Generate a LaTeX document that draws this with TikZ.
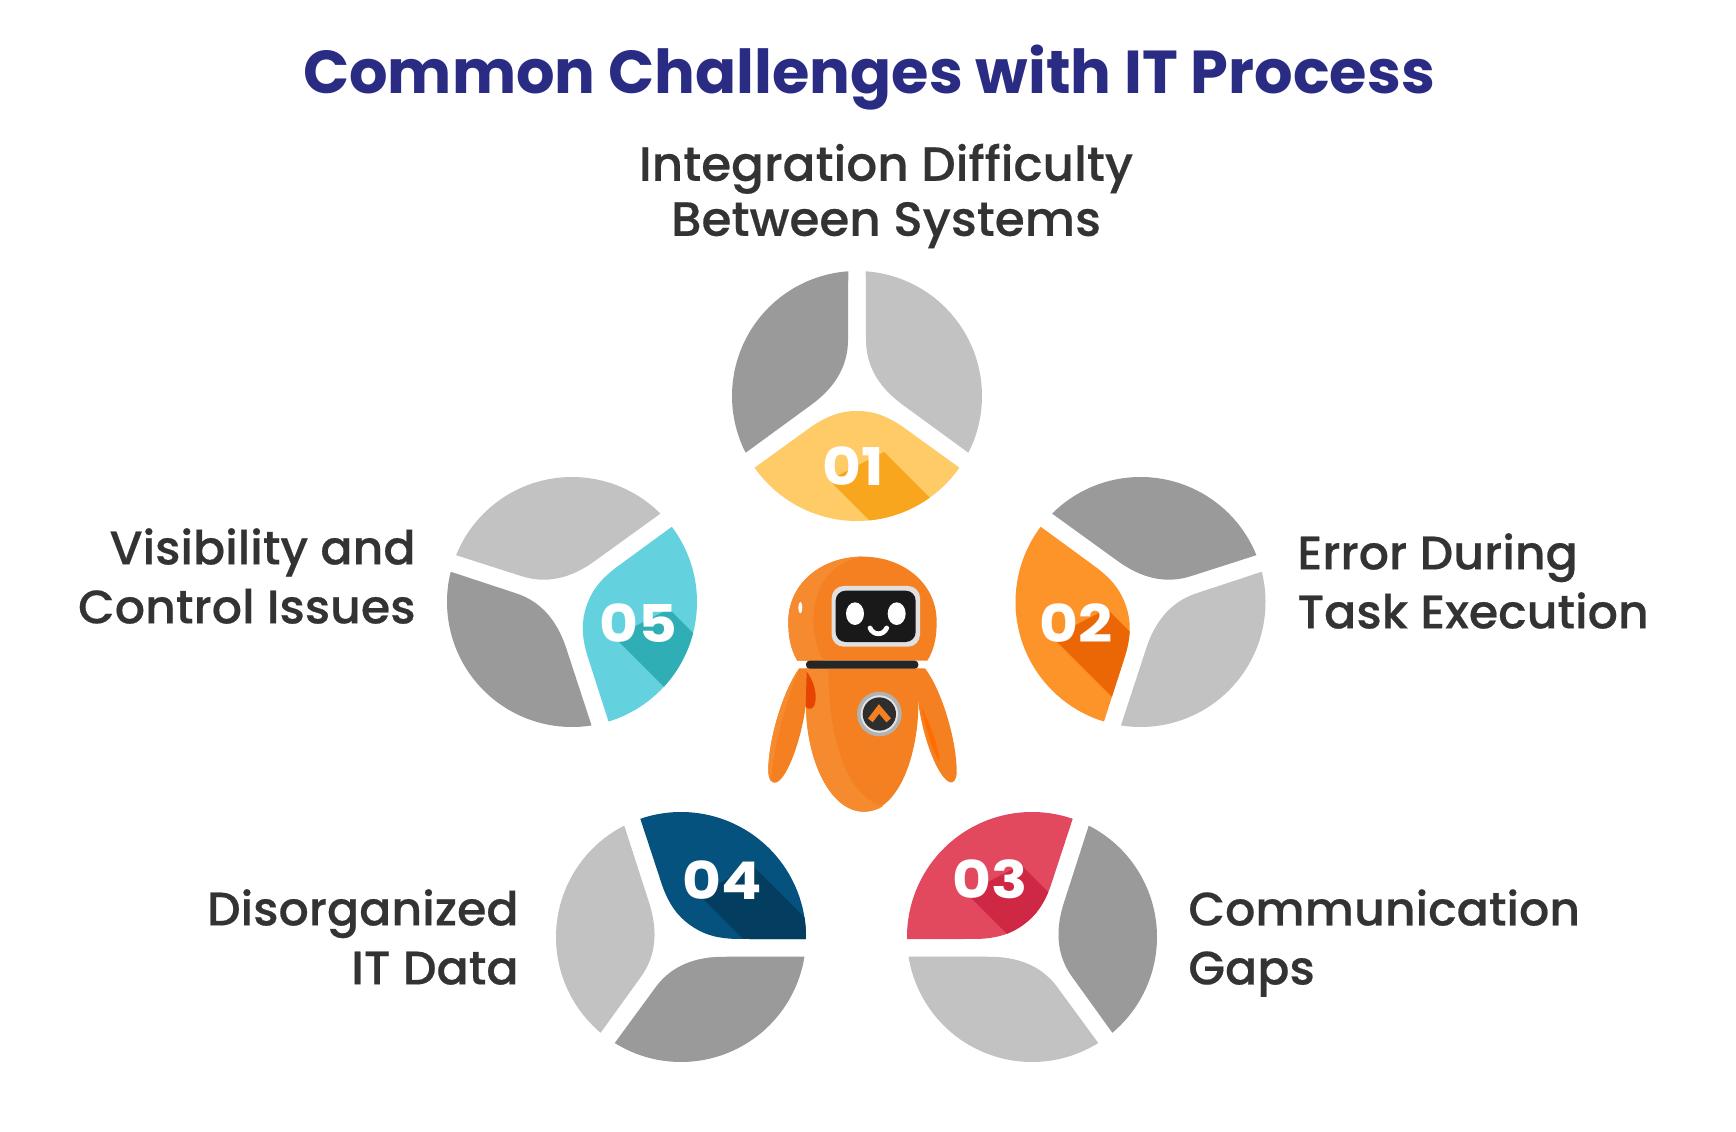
\documentclass[tikz,border=0pt]{standalone}
\usepackage{fontspec}
\setmainfont{Poppins}[BoldFont=Poppins Bold]
\newfontfamily\labelfont{Poppins Medium}[FakeStretch=1.01,FakeBold=0.4]
\newfontfamily\numfont{Poppins Bold}[FakeStretch=1.15]
\definecolor{titleblue}{HTML}{2A2C84}
\definecolor{labelgray}{HTML}{333333}
\definecolor{bladedark}{HTML}{9A9A9A}
\definecolor{bladelight}{HTML}{C2C2C2}
\definecolor{softA}{HTML}{FECB66}
\definecolor{deepA}{HTML}{F9A61F}
\definecolor{softB}{HTML}{FD942A}
\definecolor{deepB}{HTML}{EB6604}
\definecolor{softC}{HTML}{E2485E}
\definecolor{deepC}{HTML}{CE2845}
\definecolor{softD}{HTML}{05527F}
\definecolor{deepD}{HTML}{033E60}
\definecolor{softE}{HTML}{64D2DE}
\definecolor{deepE}{HTML}{2FAEB6}
\definecolor{botbody}{HTML}{F48021}
\definecolor{botlight}{HTML}{F68A2E}
\newcommand{\darkblade}{(94:125) -- (-9,56) .. controls (-9,28) and (-24,7) .. (-46,-9) -- (207:125) arc[start angle=207,end angle=94,radius=125] -- cycle}
\newcommand{\lightblade}{(86:125) -- (9,56) .. controls (9,28) and (24,7) .. (46,-9) -- (-27:125) arc[start angle=-27,end angle=86,radius=125] -- cycle}
\newcommand{\colorblade}{(215:125) -- (-46,-31) .. controls (-28,-18.5) and (-14,-15) .. (0,-15) .. controls (14,-15) and (28,-18.5) .. (46,-31) -- (325:125) arc[start angle=325,end angle=215,radius=125] -- cycle}
\begin{document}
\begin{tikzpicture}[
		x=.5pt, y=.5pt,
		heading/.style={font=\bfseries\fontsize{30.3}{36}\selectfont, text=titleblue, inner sep=0pt},
		challenge/.style={font=\labelfont\fontsize{23.5}{29.5}\selectfont, text=labelgray, inner sep=0pt},
		number/.style={font=\numfont\fontsize{26}{30}\selectfont, text=white, inner sep=0pt}
	]
	\useasboundingbox (0,0) rectangle (1736,1131);
	\fill[white] (0,0) rectangle (1736,1131);

	\node[heading] (title) at (869,1053) {Common Challenges with IT Process};
	\node[challenge, align=center, font=\labelfont\fontsize{24}{27.5}\selectfont] (lblA) at (886,935) {Integration Difficulty\\Between Systems};
	\node[challenge, align=left, anchor=west] (lblB) at (1297,550) {Error During\\Task Execution};
	\node[challenge, align=left, anchor=west] (lblC) at (1188,188) {Communication\\Gaps};
	\node[challenge, align=right, anchor=east] (lblD) at (519,194) {Disorganized\\IT Data};
	\node[challenge, align=right, anchor=east] (lblE) at (416,555) {Visibility and\\Control Issues};

	% five wheels, one blade coloured in each
	\foreach \n/\cx/\cy/\rot/\nx/\ny/\soft/\deep in {
			01/857/735/0/853/665/softA/deepA,
			02/1140.5/529/-72/1076/508/softB/deepB,
			03/1032/194/-144/990/252/softC/deepC,
			04/681/194/144/722/251/softD/deepD,
			05/572/529/72/638/508/softE/deepE}{
		\fill[bladedark, shift={(\cx,\cy)}, rotate=\rot] \darkblade;
		\fill[bladelight, shift={(\cx,\cy)}, rotate=\rot] \lightblade;
		\fill[\soft, shift={(\cx,\cy)}, rotate=\rot] \colorblade;
		\begin{scope}
			\clip[shift={(\cx,\cy)}, rotate=\rot] \colorblade;
			\fill[\deep, shift={(\nx,\ny)}] (-24,-14) -- (126,-164) -- (181,-136) -- (31,14) -- cycle;
		\end{scope}
		\node[number] (num\n) at (\nx,\ny) {\n};
	}

	% robot, in pixels of its own crop
	\begin{scope}[shift={(740,591)}, x=.16667pt, y=-.16667pt]
		% arms
		\fill[botbody] (178,385) .. controls (130,450) and (85,600) .. (85,690) .. controls (85,720) and (95,730) .. (107,728) .. controls (140,720) and (185,600) .. (198,490) -- (200,385) -- cycle;
		\fill[botbody] (555,385) .. controls (605,450) and (650,600) .. (650,695) .. controls (650,720) and (640,730) .. (630,727) .. controls (595,715) and (550,600) .. (535,490) -- (530,385) -- cycle;
		\fill[botlight] (178,385) .. controls (130,450) and (85,600) .. (85,690) .. controls (85,705) and (88,715) .. (92,722) .. controls (100,640) and (130,500) .. (178,385) -- cycle;
		\fill[orange!85!red] (543,500) .. controls (560,570) and (575,630) .. (600,665) .. controls (590,600) and (565,540) .. (543,500) -- cycle;
		% body
		\fill[botbody] (198,385) -- (198,500) .. controls (200,660) and (270,815) .. (372,815) .. controls (470,815) and (532,660) .. (535,500) -- (535,385) -- cycle;
		\fill[botlight] (198,385) -- (198,500) .. controls (200,660) and (270,815) .. (372,815) .. controls (395,815) and (415,808) .. (430,798) .. controls (340,780) and (265,640) .. (265,385) -- cycle;
		\fill[orange!60!red!90!black] (200,395) .. controls (220,420) and (232,460) .. (225,490) .. controls (220,510) and (205,510) .. (197,500) -- cycle;
		% head
		\fill[botbody] (172,362) .. controls (150,325) and (145,285) .. (145,245) .. controls (145,130) and (245,50) .. (368,50) .. controls (490,50) and (590,130) .. (590,245) .. controls (590,285) and (585,325) .. (562,362) -- cycle;
		\fill[botlight] (172,362) .. controls (150,325) and (145,285) .. (145,245) .. controls (145,130) and (245,50) .. (368,50) .. controls (300,60) and (220,110) .. (220,245) .. controls (220,295) and (235,335) .. (250,362) -- cycle;
		\fill[white] (181,203) ellipse [x radius=6, y radius=17];
		% collar
		\fill[black!85, rounded corners=1.8pt] (198,362) rectangle (535,386);
		% screen
		\fill[black!12, rounded corners=6pt] (275,138) rectangle (540,320);
		\fill[black!90, rounded corners=5pt] (287,152) rectangle (527,306);
		\fill[white] (345,221) ellipse [x radius=27, y radius=34];
		\fill[white] (470,221) ellipse [x radius=27, y radius=34];
		\draw[white, line width=2.4pt, line cap=round] (390,264) .. controls (400,287) and (430,287) .. (440,264);
		% badge
		\fill[black!30] (418,522) circle (67);
		\fill[black!10] (418,522) circle (56);
		\fill[black!82] (418,522) circle (50);
		\draw[botbody, line width=3pt] (391,541) -- (417,507) -- (446,541);
	\end{scope}
\end{tikzpicture}
\end{document}
